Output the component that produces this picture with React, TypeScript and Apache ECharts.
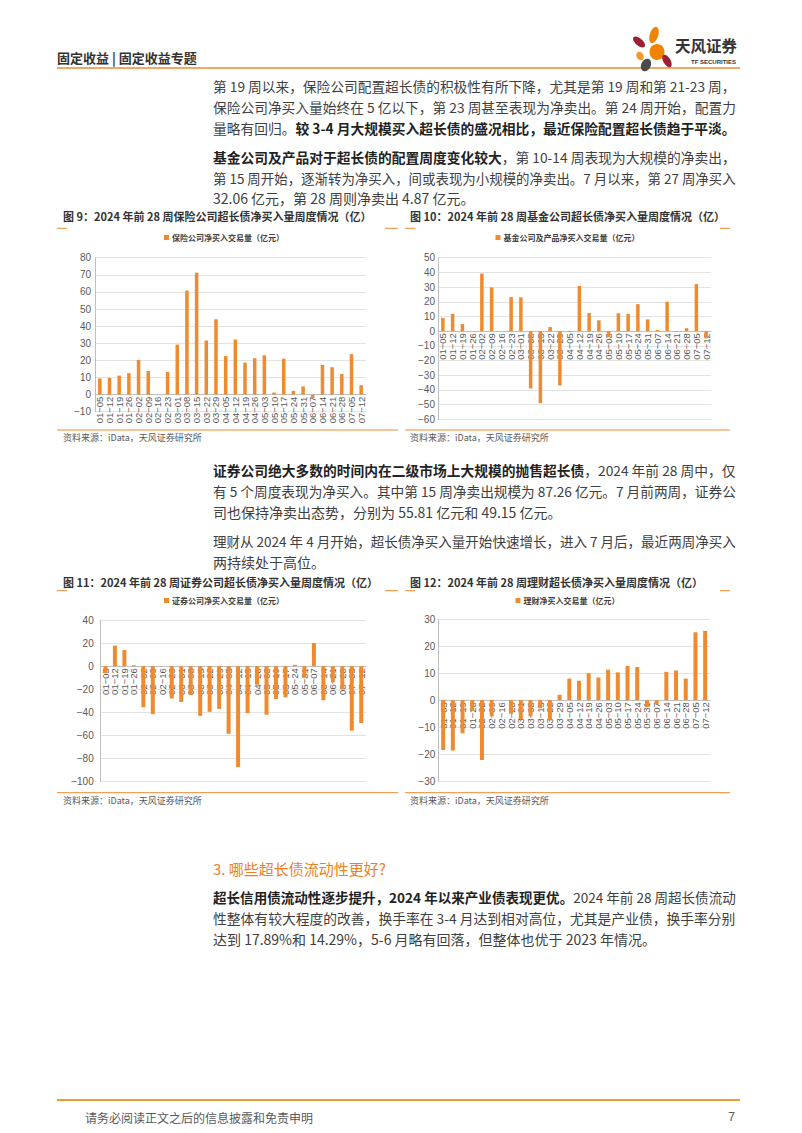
import React, { useEffect, useRef } from "react";
import * as echarts from "echarts";

const weeks = ["01-05","01-12","01-19","01-26","02-02","02-09","02-16","02-23","03-01","03-08","03-15","03-22","03-29","04-05","04-12","04-19","04-26","05-03","05-10","05-17","05-24","05-31","06-07","06-14","06-21","06-28","07-05","07-12"];

const insuranceValues = [9.5, 9.8, 11.1, 12.5, 20.3, 13.8, 0, 13.2, 29.2, 60.8, 71.2, 31.6, 44.0, 22.5, 32.2, 18.7, 21.3, 23.0, 1.2, 21.0, 2.2, 4.8, -2.0, 17.3, 16.0, 12.0, 23.6, 5.5];
const fundValues = [9.0, 11.8, 4.8, 0, 39.2, 29.8, 0, 23.2, 23.0, -39.0, -49.0, 2.8, -37.0, -0.6, 30.8, 12.4, 7.4, -4.0, 12.2, 11.8, 18.4, 8.0, 0.8, 20.0, -0.4, 2.0, 32.06, -4.87];
const securitiesValues = [-6, 17.8, 14.0, 0.8, -35.5, -41.5, 0, -28, -31, -25, -43, -39.5, -37, -58.5, -87.26, -40.5, -16, -42, -28.5, -27, 1.2, -10, 20, -29.5, -14, -20, -55.81, -49.15];
const wealthValues = [-18.5, -18.7, -12.3, -4, -22.2, -6, 0, -5, -7, -6, -3, -7.5, 2.0, 8.0, 7.2, 10.0, 8.4, 11.3, 10.3, 12.7, 12.3, -2.6, -1.5, 10.5, 11.0, 8.0, 25.2, 25.7];

const seriesNames = ["保险公司净买入交易量（亿元）", "基金公司及产品净买入交易量（亿元）", "证券公司净买入交易量（亿元）", "理财净买入交易量（亿元）"];
const figureTitles = [
  "图 9：2024 年前 28 周保险公司超长债净买入量周度情况（亿）",
  "图 10：2024 年前 28 周基金公司超长债净买入量周度情况（亿）",
  "图 11：2024 年前 28 周证券公司超长债净买入量周度情况（亿）",
  "图 12：2024 年前 28 周理财超长债净买入量周度情况（亿）",
];
const sourceText = "资料来源：iData，天风证券研究所";

type Seg = { t: string; b?: boolean };
type Line = { y: number; segs: Seg[]; justify: boolean };

const proseLines: Line[] = [
  { y: 86, justify: true, segs: [{ t: "第 19 周以来，保险公司配置超长债的积极性有所下降，尤其是第 19 周和第 21-23 周，" }] },
  { y: 107, justify: true, segs: [{ t: "保险公司净买入量始终在 5 亿以下，第 23 周甚至表现为净卖出。第 24 周开始，配置力" }] },
  { y: 128, justify: true, segs: [{ t: "量略有回归。" }, { t: "较 3-4 月大规模买入超长债的盛况相比，最近保险配置超长债趋于平淡。", b: true }] },
  { y: 157, justify: true, segs: [{ t: "基金公司及产品对于超长债的配置周度变化较大", b: true }, { t: "，第 10-14 周表现为大规模的净卖出，" }] },
  { y: 178, justify: true, segs: [{ t: "第 15 周开始，逐渐转为净买入，间或表现为小规模的净卖出。7 月以来，第 27 周净买入" }] },
  { y: 198, justify: false, segs: [{ t: "32.06 亿元，第 28 周则净卖出 4.87 亿元。" }] },
  { y: 470, justify: true, segs: [{ t: "证券公司绝大多数的时间内在二级市场上大规模的抛售超长债", b: true }, { t: "，2024 年前 28 周中，仅" }] },
  { y: 491, justify: true, segs: [{ t: "有 5 个周度表现为净买入。其中第 15 周净卖出规模为 87.26 亿元。7 月前两周，证券公" }] },
  { y: 512, justify: false, segs: [{ t: "司也保持净卖出态势，分别为 55.81 亿元和 49.15 亿元。" }] },
  { y: 541, justify: true, segs: [{ t: "理财从 2024 年 4 月开始，超长债净买入量开始快速增长，进入 7 月后，最近两周净买入" }] },
  { y: 562, justify: false, segs: [{ t: "两持续处于高位。" }] },
  { y: 897, justify: true, segs: [{ t: "超长信用债流动性逐步提升，2024 年以来产业债表现更优。", b: true }, { t: "2024 年前 28 周超长债流动" }] },
  { y: 918, justify: true, segs: [{ t: "性整体有较大程度的改善，换手率在 3-4 月达到相对高位，尤其是产业债，换手率分别" }] },
  { y: 939, justify: false, segs: [{ t: "达到 17.89%和 14.29%，5-6 月略有回落，但整体也优于 2023 年情况。" }] },
];

const CJK = '"Noto Sans CJK SC", "Noto Sans", sans-serif';
const NUM = '"Liberation Sans", Arial, "Noto Sans CJK SC", sans-serif';
const BAR = "#EF8A2F";
const ORANGE_LINE = "#EE8A2E";

const TEXT_X = 213;
const TEXT_W = 523;

function measureSegs(segs: Seg[], size: number): number {
  const ctx = document.createElement("canvas").getContext("2d");
  if (!ctx) return TEXT_W;
  let w = 0;
  for (const s of segs) {
    ctx.font = `${s.b ? "bold" : "normal"} ${size}px ${CJK}`;
    w += ctx.measureText(s.t).width;
  }
  return w;
}

function txt(x: number, y: number, text: string, o: any = {}) {
  return {
    type: "text",
    x,
    y,
    silent: true,
    style: {
      text,
      fill: o.fill || "#333",
      fontSize: o.fontSize || 12,
      fontFamily: o.fontFamily || CJK,
      fontWeight: o.fontWeight || "normal",
      textAlign: o.align || "left",
      textVerticalAlign: "middle",
      align: o.align || "left",
      verticalAlign: "middle",
    },
  };
}

function hline(x1: number, x2: number, y: number, stroke: string, lineWidth = 1) {
  return { type: "line", silent: true, shape: { x1, y1: y, x2, y2: y }, style: { stroke, lineWidth } };
}

function ell(cx: number, cy: number, rx: number, ry: number, rotDeg: number, fill: string) {
  return {
    type: "ellipse",
    x: cx,
    y: cy,
    rotation: (rotDeg * Math.PI) / 180,
    silent: true,
    shape: { cx: 0, cy: 0, rx, ry },
    style: { fill },
  };
}

type ChartSpec = {
  values: number[];
  left: number;
  top: number;
  width: number;
  height: number;
  min: number;
  max: number;
  interval: number;
  yMargin: number;
  barWidth: number;
  legendLeft: number;
  legendTop: number;
};

const specs: ChartSpec[] = [
  { values: insuranceValues, left: 95, top: 257.7, width: 271, height: 154, min: -10, max: 80, interval: 10, yMargin: 4, barWidth: 3.5, legendLeft: 164, legendTop: 233.5 },
  { values: fundValues, left: 438, top: 257.7, width: 273, height: 161.6, min: -60, max: 50, interval: 10, yMargin: 3, barWidth: 3.5, legendLeft: 495.5, legendTop: 233.5 },
  { values: securitiesValues, left: 100.7, top: 620, width: 265.3, height: 161.7, min: -100, max: 40, interval: 20, yMargin: 7, barWidth: 4, legendLeft: 164, legendTop: 596.5 },
  { values: wealthValues, left: 438.3, top: 619.3, width: 271.7, height: 161.7, min: -30, max: 30, interval: 10, yMargin: 3, barWidth: 4, legendLeft: 515.5, legendTop: 596.5 },
];

const minus = (s: string) => s.replace(/-/g, "−");

function buildOption() {
  const grid: any[] = [];
  const xAxis: any[] = [];
  const yAxis: any[] = [];
  const series: any[] = [];
  const legend: any[] = [];

  specs.forEach((s, i) => {
    // distance from the bottom of the plot up to the value-axis zero
    const zeroLift = (s.height * (0 - s.min)) / (s.max - s.min);
    grid.push({ left: s.left, top: s.top, width: s.width, height: s.height, containLabel: false });
    xAxis.push({
      type: "category",
      gridIndex: i,
      data: weeks,
      boundaryGap: true,
      position: "bottom",
      offset: -zeroLift,
      z: 1,
      axisLine: { onZero: false, lineStyle: { color: "#BFBFBF", width: 1 } },
      axisTick: { show: false },
      axisLabel: {
        interval: 0,
        rotate: 90,
        margin: 2,
        fontSize: 9.5,
        fontFamily: NUM,
        color: "#595959",
        formatter: (v: string) => minus(v),
      },
      splitLine: { show: false },
    });
    yAxis.push({
      type: "value",
      gridIndex: i,
      min: s.min,
      max: s.max,
      interval: s.interval,
      z: 0,
      axisLine: { show: true, lineStyle: { color: "#BFBFBF", width: 1 } },
      axisTick: { show: false },
      axisLabel: {
        margin: s.yMargin,
        fontSize: 10,
        fontFamily: NUM,
        color: "#595959",
        formatter: (v: number) => minus(String(v)),
      },
      splitLine: { show: true, lineStyle: { color: "#E3E3E3", width: 1 } },
    });
    series.push({
      type: "bar",
      name: seriesNames[i],
      xAxisIndex: i,
      yAxisIndex: i,
      data: s.values,
      barWidth: s.barWidth,
      z: 5,
      itemStyle: { color: BAR },
      silent: true,
    });
    legend.push({
      data: [seriesNames[i]],
      left: s.legendLeft,
      top: s.legendTop,
      padding: 0,
      itemWidth: 5,
      itemHeight: 5,
      icon: "rect",
      selectedMode: false,
      textStyle: { fontSize: 8, fontWeight: "bold", color: "#404040", fontFamily: CJK, padding: [0, 0, 0, -2] },
    });
  });

  const graphics: any[] = [];

  // header
  graphics.push(txt(57, 57, "固定收益 | 固定收益专题", { fontSize: 13, fontWeight: "bold", fill: "#333" }));
  graphics.push(hline(57, 740, 68, ORANGE_LINE, 1.5));

  // logo
  graphics.push(ell(654, 35, 4.2, 8.5, -18, "#F08300"));
  graphics.push(ell(639, 42, 3.6, 7.2, 50, "#9E1F32"));
  graphics.push(ell(657, 52, 7.5, 8, 0, "#F08300"));
  graphics.push(ell(640, 56, 3.5, 4.5, 30, "#F39A2A"));
  graphics.push(ell(667, 61, 3.6, 7, 30, "#9E1F32"));
  graphics.push(ell(646, 65, 4.8, 6.5, -25, "#4A4A4A"));
  graphics.push(txt(675, 45, "天风证券", { fontSize: 15.5, fontWeight: "bold", fill: "#333" }));
  graphics.push(txt(736, 62, "TF SECURITIES", { fontSize: 6, fontWeight: "bold", fill: "#333", fontFamily: NUM, align: "right" }));

  // prose
  proseLines.forEach((ln) => {
    let size = 14;
    if (ln.justify) {
      const w = measureSegs(ln.segs, 14);
      size = Math.max(12.8, Math.min(15, (14 * TEXT_W) / w));
    }
    const text = ln.segs.map((s) => `{${s.b ? "b" : "n"}|${s.t}}`).join("");
    graphics.push({
      type: "text",
      x: TEXT_X,
      y: ln.y,
      silent: true,
      style: {
        text,
        textAlign: "left",
        textVerticalAlign: "middle",
        align: "left",
        verticalAlign: "middle",
        fontSize: size,
        fontFamily: CJK,
        fill: "#404040",
        rich: {
          n: { fontSize: size, fontFamily: CJK, fontWeight: "normal", fill: "#404040", color: "#404040" },
          b: { fontSize: size, fontFamily: CJK, fontWeight: "bold", fill: "#222", color: "#222" },
        },
      },
    });
  });

  // section heading
  graphics.push(txt(213, 868, "3. 哪些超长债流动性更好?", { fontSize: 15, fill: "#EE7F22" }));

  // figure frames, titles, sources
  const frames = [
    { x: 57, tx: 63, x2: 398, topY: 228.3, titleY: 216, botY: 430, srcY: 437.5, segR: [385, 398] },
    { x: 405, tx: 410, x2: 730, topY: 228.3, titleY: 216, botY: 430, srcY: 437.5, segR: [720, 730] },
    { x: 57, tx: 63, x2: 398, topY: 590.7, titleY: 581.5, botY: 792.7, srcY: 800, segR: [385, 398] },
    { x: 405, tx: 410, x2: 730, topY: 590.7, titleY: 581.5, botY: 792.7, srcY: 800, segR: [720, 730] },
  ];
  frames.forEach((f, i) => {
    graphics.push(txt(f.tx, f.titleY, figureTitles[i], { fontSize: 11, fontWeight: "bold", fill: "#333" }));
    graphics.push(hline(f.x, f.x + 10, f.topY, ORANGE_LINE, 1));
    graphics.push(hline(f.segR[0], f.segR[1], f.topY, ORANGE_LINE, 1));
    graphics.push(hline(f.x, f.x2, f.botY, ORANGE_LINE, 1));
    graphics.push(txt(f.tx, f.srcY, sourceText, { fontSize: 9, fill: "#595959" }));
  });

  // footer
  graphics.push(hline(57, 740, 1100, "#EE9B30", 2));
  graphics.push(txt(85, 1117, "请务必阅读正文之后的信息披露和免责申明", { fontSize: 12, fill: "#595959" }));
  graphics.push(txt(735, 1117, "7", { fontSize: 12, fill: "#595959", fontFamily: NUM, align: "right" }));

  return {
    animation: false,
    backgroundColor: "#FFFFFF",
    textStyle: { fontFamily: CJK },
    grid,
    xAxis,
    yAxis,
    series,
    legend,
    graphic: { elements: graphics },
  };
}

export default function App() {
  const ref = useRef<HTMLDivElement>(null);
  useEffect(() => {
    if (!ref.current) return;
    const chart = echarts.init(ref.current, undefined, { renderer: "svg" });
    chart.setOption(buildOption() as any);
    return () => chart.dispose();
  }, []);
  return (
    <div
      ref={ref}
      style={{ position: "absolute", left: 0, top: 0, width: 802, height: 1133, background: "#fff" }}
    />
  );
}
